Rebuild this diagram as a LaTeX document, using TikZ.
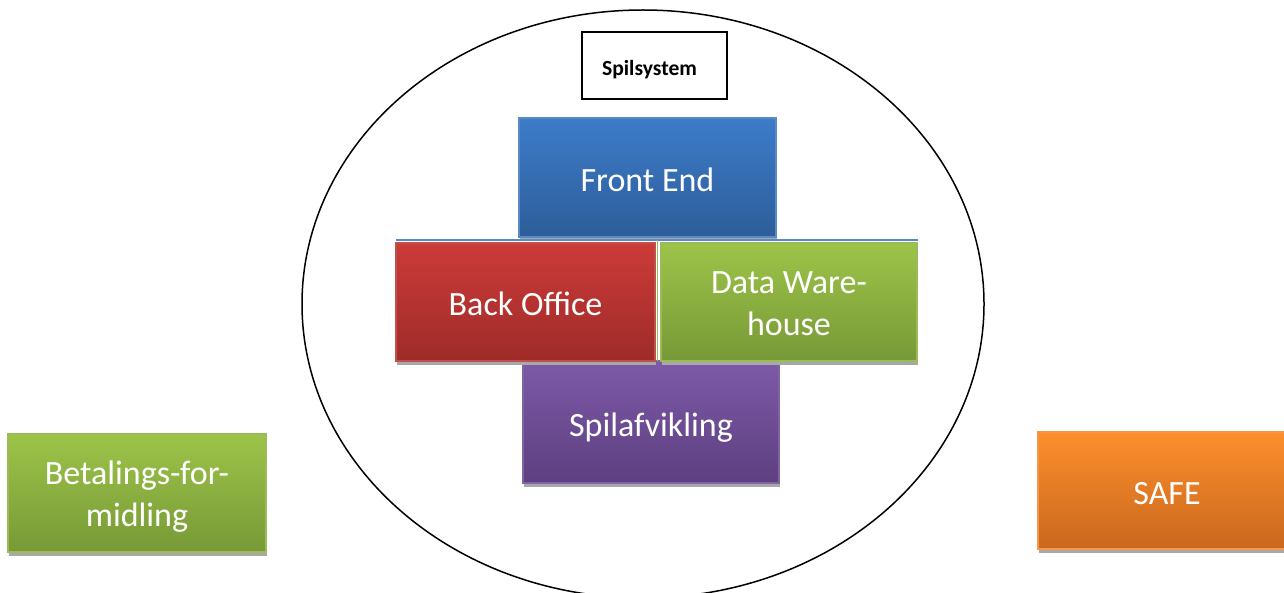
\documentclass[tikz,border=0pt]{standalone}
\usepackage{fontspec}
\setmainfont{Carlito}
\usetikzlibrary{shadows}
\definecolor{feTop}{HTML}{3D7CC9}\definecolor{feBot}{HTML}{2D5D99}\definecolor{feLine}{HTML}{5A8AC6}
\definecolor{boTop}{HTML}{CC3B38}\definecolor{boBot}{HTML}{9E2B29}\definecolor{boLine}{HTML}{C0504D}
\definecolor{dwTop}{HTML}{9DC449}\definecolor{dwBot}{HTML}{779937}\definecolor{dwLine}{HTML}{9BBB59}
\definecolor{spTop}{HTML}{7D5AA8}\definecolor{spBot}{HTML}{5E3F80}\definecolor{spLine}{HTML}{8064A2}
\definecolor{saTop}{HTML}{FD8F2C}\definecolor{saBot}{HTML}{C9671D}\definecolor{saLine}{HTML}{F79646}
\definecolor{shadowGrey}{HTML}{A8A8A8}
\begin{document}
\begin{tikzpicture}[x=0.5pt,y=-0.5pt,
  colbox/.style={draw=#1Line, line width=0.6pt, top color=#1Top, bottom color=#1Bot, inner sep=0pt,
    general shadow={fill=shadowGrey, shadow xshift=0.3pt, shadow yshift=-2pt}},
  boxtext/.style={text=white, font=\fontsize{17}{21.3}\selectfont, align=center, inner sep=0pt},
  titlebox/.style={draw=black, line width=0.75pt, fill=white, inner sep=0pt},
  titletext/.style={inner sep=0pt, font=\fontsize{10.8}{12.5}\selectfont\bfseries},
  ring/.style={draw=black, line width=0.75pt},
  grouprule/.style={draw=feLine, line width=0.8pt},
  splitrule/.style={draw=dwLine, line width=0.5pt}
]
\useasboundingbox (0,0) rectangle (1284,593);
\fill[white] (0,0) rectangle (1284,593);
\clip (0,0) rectangle (1284,593);

% outer ellipse
\draw[ring] (643,304) ellipse [x radius=170.5pt, y radius=147pt];

% title
\node[titlebox, minimum width=72.5pt, minimum height=33.5pt] (title) at (654.5,65.5) {};
\node[titletext] (titleT) at ([xshift=-2.5pt,yshift=-2.2pt]title.center) {Spilsystem};

% boxes
\node[colbox=fe, minimum width=128.5pt, minimum height=59.5pt] (fe) at (647.5,177.5) {};
\node[boxtext] (feT) at ([yshift=-1pt]fe.center) {Front End};
\draw[grouprule] (396,240) -- (918,240);
\node[colbox=sp, minimum width=128pt, minimum height=61pt] (sp) at (651,422) {};
\node[boxtext] (spT) at ([yshift=-2.75pt]sp.center) {Spilafvikling};
\node[colbox=bo, minimum width=129.5pt, minimum height=59pt] (bo) at (525.5,302) {};
\node[boxtext] (boT) at ([yshift=-0.7pt]bo.center) {Back Office};
\node[colbox=dw, minimum width=128pt, minimum height=59pt] (dw) at (789,302) {};
\node[boxtext] (dwT) at ([yshift=-0.8pt]dw.center) {Data Ware-\\house};
\coordinate (gapTop) at (657.5,240);
\coordinate (gapBot) at (657.5,361);
\draw[splitrule] (gapTop) -- (gapBot);

\node[colbox=dw, minimum width=129pt, minimum height=59pt] (bf) at (137,493) {};
\node[boxtext] (bfT) at ([yshift=-1.8pt]bf.center) {Betalings-for-\\midling};
\node[colbox=sa, minimum width=129pt, minimum height=58.5pt] (safe) at (1167,490.5) {};
\node[boxtext] (safeT) at ([yshift=-1.5pt]safe.center) {SAFE};
\end{tikzpicture}
\end{document}
